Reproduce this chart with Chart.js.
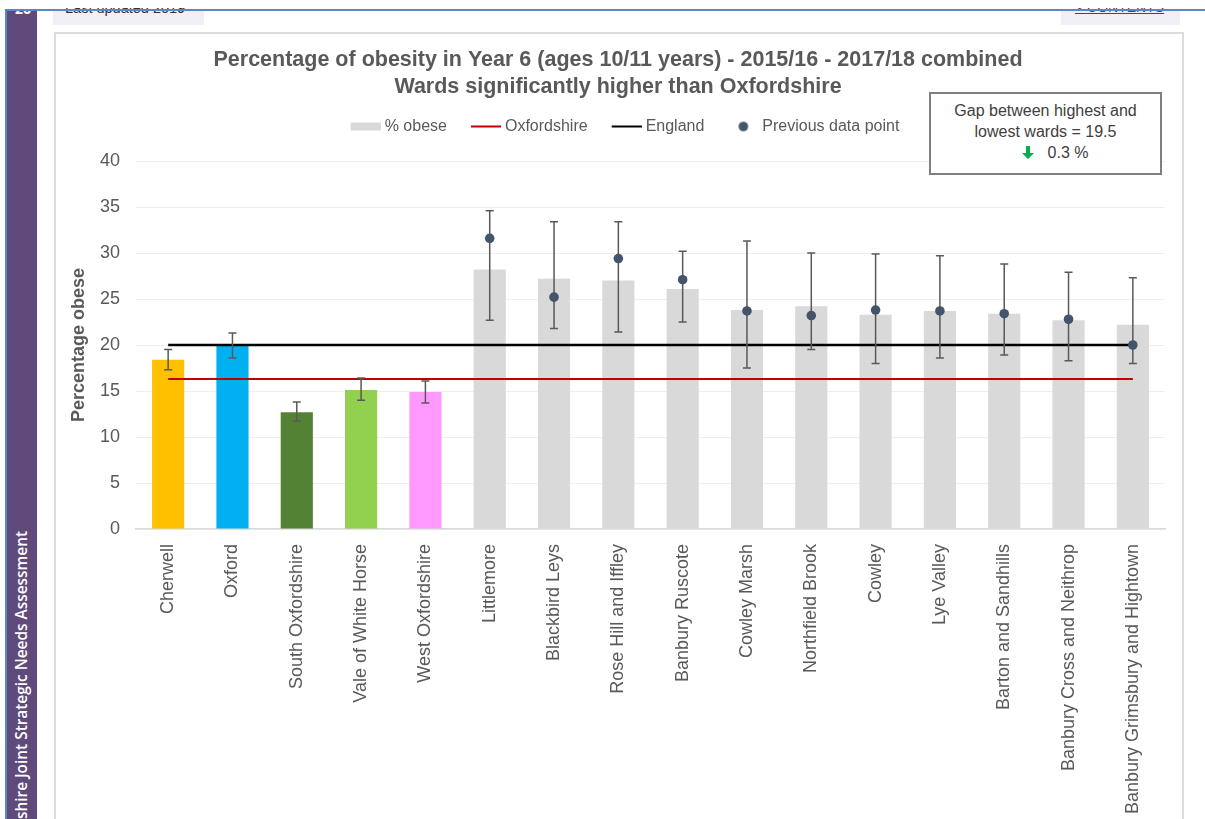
<!DOCTYPE html>
<html>
<head>
<meta charset="utf-8">
<title>Percentage of obesity in Year 6</title>
<script src="https://cdn.jsdelivr.net/npm/chart.js@4.4.1/dist/chart.umd.min.js"></script>
<style>
  html, body { margin: 0; padding: 0; background: #fff; overflow: hidden; }
  #page { position: relative; width: 1205px; height: 819px; overflow: hidden; font-family: "Liberation Sans", Arial, sans-serif; }
  .rule { position: absolute; background: #5b87c9; z-index: 5; }
  .sidebar { position: absolute; left: 7px; top: 11px; width: 30px; height: 808px; background: #5f4a7b; overflow: hidden; }
  .pageNo { position: absolute; left: 8px; top: -12px; color: #fff; font: bold 14px "Open Sans", sans-serif; }
  .sideText { position: absolute; left: 4px; top: 920px; width: 400px; height: 22px; line-height: 22px;
              transform-origin: 0 0; transform: rotate(-90deg); text-align: right; white-space: nowrap;
              color: #fff; font: 600 15.4px "Open Sans", sans-serif; }
  .tab { position: absolute; top: 8px; height: 17px; overflow: hidden; }
  .tab .bg { position: absolute; left: 0; right: 0; top: 3px; bottom: 0; background: #f1eff6; }
  .tab span { position: absolute; white-space: nowrap; }
  .frame { position: absolute; left: 54px; top: 32px; width: 1126px; height: 820px; border: 2px solid #dcdcdc; background: #fff; }
  #chart { position: absolute; left: 0; top: 0; z-index: 2; }
  .note { position: absolute; left: 929px; top: 92px; width: 229px; height: 73px; border: 2px solid #7f7f7f; background: #fff;
          z-index: 3; color: #404040; font-size: 16px; line-height: 21px; text-align: center; padding-top: 6px; box-sizing: content-box; }
  .note .change { padding-left: 19px; }
  .note svg { vertical-align: -1px; margin-right: 14px; }
</style>
</head>
<body>
<div id="page">
  <div class="sidebar">
    <div class="pageNo">26</div>
    <div class="sideText">Oxfordshire Joint Strategic Needs Assessment</div>
  </div>
  <div class="rule" style="left:6px; top:9px; width:1199px; height:2px;"></div>
  <div class="rule" style="left:5px; top:9px; width:2px; height:810px;"></div>

  <div class="tab" style="left:53px; width:151px;">
    <div class="bg"></div>
    <span style="left:12px; top:-8px; font-size:14.5px; color:#333;">Last updated 2019</span>
  </div>
  <div class="tab" style="left:1061px; width:119px;">
    <div class="bg"></div>
    <span style="left:14px; top:-9px; font-size:14px; color:#4b3f7f; text-decoration:underline;">&gt; CONTENTS</span>
  </div>

  <div class="frame"></div>
  <canvas id="chart" width="1205" height="819" style="width:1205px;height:819px;"></canvas>

  <div class="note">
    Gap between highest and<br>
    lowest wards = 19.5<br>
    <span class="change"><svg width="12" height="13" viewBox="0 0 12 13"><path d="M4 0h4v7h4L6 13 0 7h4z" fill="#00B050"/></svg>0.3 %</span>
  </div>
</div>

<script>
// Districts first, then the wards significantly higher than Oxfordshire
const categories = [
  'Cherwell', 'Oxford', 'South Oxfordshire', 'Vale of White Horse', 'West Oxfordshire',
  'Littlemore', 'Blackbird Leys', 'Rose Hill and Iffley', 'Banbury Ruscote', 'Cowley Marsh',
  'Northfield Brook', 'Cowley', 'Lye Valley', 'Barton and Sandhills',
  'Banbury Cross and Neithrop', 'Banbury Grimsbury and Hightown'
];

// % obese, Year 6, 2015/16 - 2017/18 combined
const obeseValues = [18.4, 20.0, 12.7, 15.1, 14.9, 28.2, 27.2, 27.0, 26.1, 23.8, 24.2, 23.3, 23.7, 23.4, 22.7, 22.2];

// 95% confidence interval limits
const ciLower = [17.3, 18.6, 11.7, 14.0, 13.7, 22.7, 21.8, 21.4, 22.5, 17.5, 19.5, 18.0, 18.6, 18.9, 18.3, 18.0];
const ciUpper = [19.5, 21.3, 13.8, 16.4, 16.1, 34.6, 33.4, 33.4, 30.2, 31.3, 30.0, 29.9, 29.7, 28.8, 27.9, 27.3];

// Previous period value for each ward (districts have none)
const previousValues = [null, null, null, null, null, 31.6, 25.2, 29.4, 27.1, 23.7, 23.2, 23.8, 23.7, 23.4, 22.8, 20.0];

// Comparator averages
const oxfordshireValues = [16.3, 16.3, 16.3, 16.3, 16.3, 16.3, 16.3, 16.3, 16.3, 16.3, 16.3, 16.3, 16.3, 16.3, 16.3, 16.3];
const englandValues = [20.0, 20.0, 20.0, 20.0, 20.0, 20.0, 20.0, 20.0, 20.0, 20.0, 20.0, 20.0, 20.0, 20.0, 20.0, 20.0];

const yTicks = [0, 5, 10, 15, 20, 25, 30, 35, 40];

const titleLines = [
  'Percentage of obesity in Year 6 (ages 10/11 years) - 2015/16 - 2017/18 combined',
  'Wards significantly higher than Oxfordshire'
];

const districtColours = ['#FFC000', '#00B0F0', '#548235', '#92D050', '#FF99FF'];
const wardColour = '#D9D9D9';
const barColours = categories.map((c, i) => districtColours[i] || wardColour);

const textGrey = '#595959';
const fontFamily = '"Liberation Sans", Arial, sans-serif';

// Small canvases used as legend symbols
function legendSymbol(draw) {
  const c = document.createElement('canvas');
  c.width = 48; c.height = 12;
  draw(c.getContext('2d'));
  return c;
}
const symbols = {
  bar: legendSymbol(g => { g.fillStyle = wardColour; g.fillRect(18, 2, 30, 8); }),
  oxon: legendSymbol(g => { g.fillStyle = '#C00000'; g.fillRect(18, 5, 30, 2); }),
  eng: legendSymbol(g => { g.fillStyle = '#000000'; g.fillRect(18, 5, 30, 2); }),
  dot: legendSymbol(g => { g.fillStyle = '#44546A'; g.beginPath(); g.arc(33, 6, 4.8, 0, Math.PI * 2); g.fill(); })
};
const legendEntries = [
  { text: '% obese', symbol: 'bar' },
  { text: 'Oxfordshire', symbol: 'oxon' },
  { text: 'England', symbol: 'eng' },
  { text: 'Previous data point', symbol: 'dot' }
];

// Confidence interval whiskers, drawn just beneath the previous-value dots
const errorBars = {
  id: 'errorBars',
  beforeDatasetDraw(chart, args) {
    if (chart.data.datasets[args.index].id !== 'previous') return;
    const { ctx, scales: { x, y } } = chart;
    ctx.save();
    ctx.strokeStyle = '#595959';
    ctx.lineWidth = 1.5;
    ciLower.forEach((lo, i) => {
      const px = x.getPixelForValue(i);
      const yLo = y.getPixelForValue(lo);
      const yHi = y.getPixelForValue(ciUpper[i]);
      ctx.beginPath();
      ctx.moveTo(px, yLo); ctx.lineTo(px, yHi);
      ctx.moveTo(px - 4, yLo); ctx.lineTo(px + 4, yLo);
      ctx.moveTo(px - 4, yHi); ctx.lineTo(px + 4, yHi);
      ctx.stroke();
    });
    ctx.restore();
  }
};

new Chart(document.getElementById('chart'), {
  data: {
    labels: categories,
    datasets: [
      {
        id: 'previous', type: 'line', label: 'Previous data point', data: previousValues,
        showLine: false, pointRadius: 4.8, pointBackgroundColor: '#44546A', pointBorderWidth: 0, order: 0
      },
      {
        type: 'line', label: 'England', data: englandValues,
        borderColor: '#000000', borderWidth: 2.5, pointRadius: 0, fill: false, order: 2
      },
      {
        type: 'line', label: 'Oxfordshire', data: oxfordshireValues,
        borderColor: '#C00000', borderWidth: 2, pointRadius: 0, fill: false, order: 3
      },
      {
        type: 'bar', label: '% obese', data: obeseValues,
        backgroundColor: barColours, borderWidth: 0,
        barPercentage: 0.5, categoryPercentage: 1.0, order: 5
      }
    ]
  },
  options: {
    responsive: false,
    animation: false,
    events: [],
    layout: { padding: { left: 54, right: 23, top: 0, bottom: 0 } },
    plugins: {
      tooltip: { enabled: false },
      title: {
        display: true,
        text: titleLines,
        color: textGrey,
        font: { family: fontFamily, size: 21.5, weight: 'bold', lineHeight: 27 / 21.5 },
        padding: { top: 46.5, bottom: 8 }
      },
      legend: {
        display: true,
        position: 'top',
        labels: {
          color: textGrey,
          font: { family: fontFamily, size: 16 },
          usePointStyle: true,
          pointStyleWidth: 40,
          padding: 10,
          generateLabels: () => legendEntries.map((e, i) => ({
            text: e.text,
            pointStyle: symbols[e.symbol],
            fillStyle: 'rgba(0,0,0,0)',
            strokeStyle: 'rgba(0,0,0,0)',
            lineWidth: 0,
            hidden: false,
            fontColor: textGrey,
            datasetIndex: i
          }))
        }
      },
      // keeps a gap between the legend row and the plot
      subtitle: {
        display: true,
        text: ' ',
        weight: 500,
        font: { size: 1, lineHeight: 1 },
        padding: { top: 0, bottom: 15.5 }
      }
    },
    scales: {
      x: {
        grid: { display: false },
        border: { display: true, color: '#D9D9D9', width: 1.5 },
        ticks: {
          color: textGrey,
          font: { family: fontFamily, size: 18 },
          minRotation: 90, maxRotation: 90,
          autoSkip: false,
          padding: 7
        },
        afterFit(scale) { scale.height = 290; }
      },
      y: {
        min: 0, max: 40,
        afterBuildTicks(scale) { scale.ticks = yTicks.map(v => ({ value: v })); },
        grid: { color: '#EFEFEF', lineWidth: 1, drawTicks: false },
        border: { display: false },
        ticks: {
          color: textGrey,
          font: { family: fontFamily, size: 18 },
          padding: 16
        },
        title: {
          display: true,
          text: 'Percentage obese',
          color: textGrey,
          font: { family: fontFamily, size: 18, weight: 'bold' },
          padding: { top: 14, bottom: 0 }
        },
        afterFit(scale) { scale.width = 82; }
      },
      yPad: {
        type: 'linear',
        position: 'right',
        display: true,
        grid: { display: false },
        border: { display: false },
        ticks: { display: false },
        afterFit(scale) { scale.width = 17; }
      }
    }
  },
  plugins: [errorBars]
});
</script>
</body>
</html>
